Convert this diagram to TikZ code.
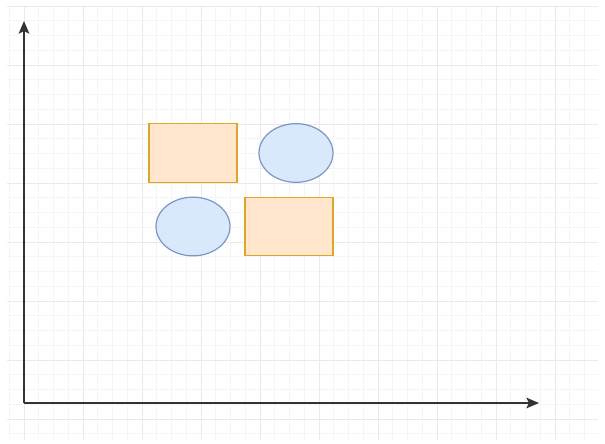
\documentclass[tikz,border=0pt]{standalone}
\usepackage{xcolor}
\usepackage{tikz}
\usetikzlibrary{arrows.meta,positioning,shapes.geometric}
\definecolor{gridminor}{HTML}{F5F5F5}
\definecolor{gridmajor}{HTML}{EAEAEA}
\definecolor{orangefill}{HTML}{FFE6CC}
\definecolor{orangeline}{HTML}{DDA52A}
\definecolor{bluefill}{HTML}{DAE8FC}
\definecolor{blueline}{HTML}{7A98C4}
\definecolor{axiscol}{HTML}{333333}
\tikzset{
    minorline/.style={draw=gridminor, line width=0.75pt},
    majorline/.style={draw=gridmajor, line width=0.75pt},
    block/.style={
        draw=orangeline,
        fill=orangefill,
        line width=0.9pt,
        minimum width=66pt,
        minimum height=44pt,
        inner sep=0pt
    },
    blob/.style={
        draw=blueline,
        fill=bluefill,
        ellipse,
        line width=0.9pt,
        minimum width=55.5pt,
        minimum height=44pt,
        inner sep=0pt
    },
    axis/.style={-{Stealth[length=9.5pt,width=8pt,inset=2pt]}, draw=axiscol, line width=1.2pt}
}

\begin{document}
\begin{tikzpicture}[x=0.75pt, y=-0.75pt]
        \useasboundingbox (0,0) rectangle (605,443);
        % grid
        \foreach \k in {-1,...,38}
            \draw[minorline] ({24+14.75*\k},6) -- ({24+14.75*\k},440);
        \foreach \k in {0,...,29}
            \draw[minorline] (7,{6+14.75*\k}) -- (598,{6+14.75*\k});
        \foreach \x in {24,83,...,555}
            \draw[majorline] (\x,6) -- (\x,440);
        \foreach \y in {6,65,...,419}
            \draw[majorline] (7,\y) -- (598,\y);

        \coordinate (origin) at (24,403);
        \coordinate (ytip) at (24,21);
        \coordinate (xtip) at (539,403);

        \node[block] (boxa) at (193,153) {};
        \node[blob] (blobb) at (296,153) {};
        \node[blob] (bloba) at (193,226.5) {};
        \node[block] (boxb) at (289,226.5) {};

        \draw[axis] (origin) -- (ytip);
        \draw[axis] (origin) -- (xtip);
    \end{tikzpicture}
\end{document}
